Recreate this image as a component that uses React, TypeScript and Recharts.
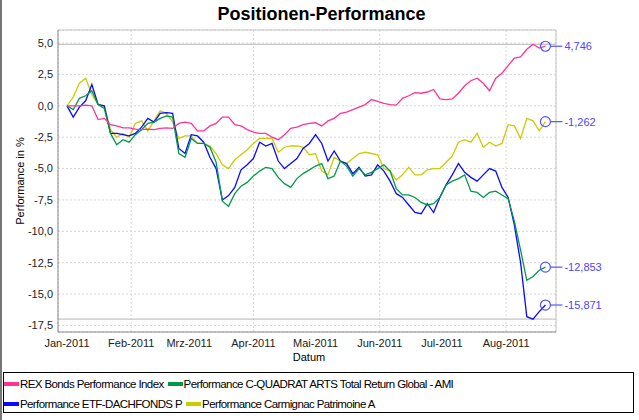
import {
  LineChart,
  Line,
  XAxis,
  YAxis,
  CartesianGrid,
  ReferenceLine,
  LabelList,
} from "recharts";

// Tage seit 01.01.2011
const days = [
  0, 3, 6, 9, 12, 15, 18, 21, 24, 27,
  30, 33, 36, 39, 42, 45, 48, 51, 54, 57,
  60, 63, 66, 69, 72, 75, 78, 81, 84, 87,
  90, 93, 96, 99, 102, 105, 108, 111, 114, 117,
  120, 123, 126, 129, 132, 135, 138, 141, 144, 147,
  150, 153, 156, 159, 162, 165, 168, 171, 174, 177,
  180, 183, 186, 189, 192, 195, 198, 201, 204, 207,
  210, 213, 216, 219, 222, 225, 228, 231,
];

const rexBonds = [
  0, 0, 0, 0.05, 0, -1.1, -1.0, -1.5, -1.6, -1.75,
  -1.75, -1.85, -1.9, -1.85, -1.9, -1.8, -1.75, -1.8, -1.4, -1.3,
  -1.4, -2.0, -2.0, -1.6, -1.4, -0.9, -0.9, -1.5, -1.6, -1.9,
  -2.1, -2.2, -2.2, -2.5, -2.7, -2.3, -1.8, -1.7, -1.5, -1.4,
  -1.35, -1.6, -1.2, -1.0, -0.6, -0.5, -0.3, -0.1, 0.1, 0.5,
  0.35, 0.2, 0.1, 0.05, 0.6, 0.8, 1.05, 1.0, 1.1, 1.3,
  0.55, 0.5, 0.55, 1.0, 1.6, 2.0, 2.2, 1.8, 1.2, 2.2,
  2.6, 3.2, 3.8, 3.9, 4.5, 4.9, 4.6, 4.746,
];

const cQuadrat = [
  0, -0.3, 0.6, 0.8, 1.2, 0.1, -0.2, -2.2, -3.1, -2.7,
  -2.9, -2.3, -1.9, -1.4, -1.3, -1.0, -0.8, -0.9, -3.8, -4.1,
  -2.6, -3.0, -3.0, -3.3, -4.5, -7.6, -8.0, -7.0, -6.4, -6.1,
  -5.6, -5.2, -4.9, -5.0, -5.7, -6.2, -6.5, -5.8, -5.4, -5.1,
  -4.8, -4.6, -5.8, -5.6, -4.4, -4.8, -5.6, -5.0, -5.5, -5.3,
  -5.0, -4.7, -5.2, -6.6, -7.1, -7.1, -7.3, -7.7, -7.9, -7.8,
  -7.3, -6.3, -6.0, -5.8, -5.5, -6.8, -6.9, -7.3, -6.9, -6.8,
  -7.1, -7.4, -9.2, -11.5, -13.9, -13.6, -13.1, -12.853,
];

const etfDachfonds = [
  0, -0.9, -0.1, 0.4, 1.7, 0.1, 0, -2.2, -2.2, -2.3,
  -2.4, -2.2, -1.7, -1.0, -1.3, -0.6, -0.55, -0.6, -3.4, -3.8,
  -2.3, -2.4, -2.9, -4.1, -5.0, -7.5, -7.15, -6.5, -5.1, -4.7,
  -4.2, -2.9, -3.2, -3.0, -4.4, -5.0, -4.6, -4.2, -3.4, -3.0,
  -2.3, -3.0, -4.4, -3.6, -4.4, -4.6, -5.4, -4.9, -5.6, -5.5,
  -4.7, -5.2, -6.0, -7.0, -7.3, -7.9, -8.5, -8.6, -7.8, -8.5,
  -7.3, -6.3, -5.5, -4.6, -5.3, -5.7, -6.0, -5.5, -5.0, -5.2,
  -6.5, -7.3, -9.5, -12.5, -16.8, -17.0, -16.4, -15.871,
];

const carmignac = [
  0, 0.7, 1.8, 2.2, 0.9, 0.1, 0, -1.9, -2.5, -2.2,
  -2.5, -1.4, -1.2, -2.0, -1.2, -0.4, -0.6, -1.3, -2.6, -2.4,
  -2.4, -3.0, -3.0, -3.2, -3.8, -4.7, -5.0, -4.3, -3.9, -3.5,
  -3.0, -2.6, -2.6, -2.6, -3.7, -3.3, -3.2, -3.2, -3.3, -3.9,
  -3.8, -5.2, -5.5, -4.1, -4.4, -4.6, -4.2, -3.8, -3.7, -3.8,
  -3.9, -5.0, -5.2, -5.9, -5.5, -4.9, -5.5, -5.5, -5.1, -5.0,
  -5.0, -4.5, -4.0, -2.9, -2.7, -2.9, -2.2, -3.3, -2.9, -3.2,
  -3.0, -1.5, -1.6, -2.6, -1.0, -1.2, -2.0, -1.262,
];

const monthTicks = [0, 31, 59, 90, 120, 151, 181, 212];
const monthLabels = [
  "Jan-2011",
  "Feb-2011",
  "Mrz-2011",
  "Apr-2011",
  "Mai-2011",
  "Jun-2011",
  "Jul-2011",
  "Aug-2011",
];
const yTicks = [5, 2.5, 0, -2.5, -5, -7.5, -10, -12.5, -15, -17.5];

const series = [
  { key: "rex", name: "REX Bonds Performance Index", color: "#ff3399", values: rexBonds },
  { key: "cq", name: "Performance C-QUADRAT ARTS Total Return Global - AMI", color: "#00994c", values: cQuadrat },
  { key: "etf", name: "Performance ETF-DACHFONDS P", color: "#0a0aff", values: etfDachfonds },
  { key: "car", name: "Performance Carmignac Patrimoine A", color: "#cccc00", values: carmignac },
];

const X_DOMAIN: [number, number] = [-4.35, 236.1];
const Y_DOMAIN: [number, number] = [-18.02, 6.04];
const FONT = "'Liberation Sans', Arial, sans-serif";

function App() {
  const chartData = days.map((d, i) => {
    const row: Record<string, number> = { day: d };
    series.forEach((s) => {
      row[s.key] = s.values[i];
    });
    return row;
  });

  const allValues = series.flatMap((s) => s.values);
  const maxVal = Math.max(...allValues);
  const minVal = Math.min(...allValues);

  // Endwert-Markierung am letzten Punkt
  const EndLabel = (props: any) => {
    const { x, y, index, value } = props;
    if (index !== days.length - 1) return null;
    return (
      <g>
        <circle cx={x} cy={y} r={5} fill="none" stroke="#5555ff" strokeWidth={1.2} />
        <line x1={x + 5} y1={y} x2={x + 17} y2={y} stroke="#5555ff" strokeWidth={1.2} />
        <text x={x + 19} y={y} dy="0.36em" fontSize={11} fill="#4848ff" fontFamily={FONT}>
          {Number(value).toFixed(3).replace(".", ",")}
        </text>
      </g>
    );
  };

  const legendRows = [series.slice(0, 2), series.slice(2, 4)];

  return (
    <div
      style={{
        position: "absolute",
        left: 0,
        top: 0,
        width: 639,
        height: 420,
        background: "#fff",
        fontFamily: FONT,
        borderLeft: "2px solid #777",
        boxSizing: "border-box",
      }}
    >
      <div
        style={{
          position: "absolute",
          left: 0,
          top: 4,
          width: 639,
          textAlign: "center",
          fontSize: 18,
          fontWeight: "bold",
          color: "#000",
        }}
      >
        Positionen-Performance
      </div>
      <div
        style={{
          position: "absolute",
          left: 18,
          top: 181,
          fontSize: 11,
          color: "#000",
          whiteSpace: "nowrap",
          transform: "translate(-50%, -50%) rotate(-90deg)",
        }}
      >
        Performance in %
      </div>
      <div
        style={{
          position: "absolute",
          left: 307,
          top: 351,
          fontSize: 11,
          color: "#000",
          transform: "translateX(-50%)",
        }}
      >
        Datum
      </div>

      <div style={{ position: "absolute", left: -2, top: 0 }}>
        <LineChart
          width={639}
          height={420}
          data={chartData}
          margin={{ top: 30, right: 83, bottom: 58, left: 0 }}
        >
          <CartesianGrid stroke="#d6d6d6" strokeDasharray="2 2" />
          <XAxis
            dataKey="day"
            type="number"
            domain={X_DOMAIN}
            ticks={monthTicks}
            tickFormatter={(v: number) => monthLabels[monthTicks.indexOf(v)] ?? ""}
            height={30}
            tickLine={false}
            tickSize={0}
            tickMargin={7}
            stroke="#888"
            tick={{ fontSize: 11, fill: "#222", fontFamily: FONT }}
            allowDataOverflow
          />
          <YAxis
            type="number"
            domain={Y_DOMAIN}
            ticks={yTicks}
            tickFormatter={(v: number) => v.toFixed(1).replace(".", ",")}
            width={58}
            tickLine={false}
            tickSize={0}
            tickMargin={5}
            stroke="#888"
            tick={{ fontSize: 11, fill: "#222", fontFamily: FONT }}
            allowDataOverflow
          />
          {/* Rahmen oben/rechts */}
          <ReferenceLine y={Y_DOMAIN[1]} stroke="#c4c4c4" />
          <ReferenceLine x={X_DOMAIN[1]} stroke="#c4c4c4" />
          {/* Max / Min Markierung */}
          <ReferenceLine y={maxVal} stroke="#c4c4c4" strokeWidth={1.2} />
          <ReferenceLine y={minVal} stroke="#c4c4c4" strokeWidth={1.2} />
          {[...series].reverse().map((s) => (
            <Line
              key={s.key}
              type="linear"
              dataKey={s.key}
              stroke={s.color}
              strokeWidth={1.3}
              dot={false}
              activeDot={false}
              isAnimationActive={false}
            >
              <LabelList dataKey={s.key} content={EndLabel} />
            </Line>
          ))}
        </LineChart>
      </div>

      <div
        style={{
          position: "absolute",
          left: 1,
          top: 372,
          width: 631,
          height: 41,
          border: "1px solid #000",
          boxSizing: "border-box",
          paddingTop: 2,
        }}
      >
        {legendRows.map((row, ri) => (
          <div key={ri} style={{ display: "flex", alignItems: "center", height: 18, marginTop: ri === 0 ? 0 : 2 }}>
            {row.map((s) => (
              <div key={s.key} style={{ display: "flex", alignItems: "center", marginRight: 4 }}>
                <div style={{ width: 15, height: 4, background: s.color, marginRight: 1 }} />
                <span style={{ fontSize: 11.5, letterSpacing: -0.6, color: "#000", whiteSpace: "nowrap" }}>
                  {s.name}
                </span>
              </div>
            ))}
          </div>
        ))}
      </div>
    </div>
  );
}

export default App;
